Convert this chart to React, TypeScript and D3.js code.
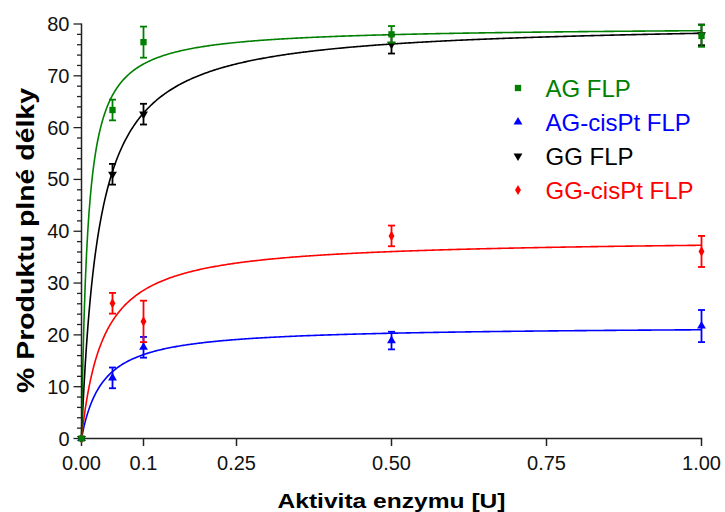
import * as d3 from 'd3';

// doses (x) and measured means / errors per series
const doses = [0, 0.05, 0.1, 0.5, 1.0];

const agMean = [0, 63.4, 76.5, 78.0, 77.7];
const agErr = [0, 2.0, 3.0, 1.6, 2.1];
const agCisMean = [0, 11.7, 17.6, 18.9, 21.7];
const agCisErr = [0, 2.0, 2.0, 1.7, 3.1];
const ggMean = [0, 51.0, 62.6, 76.1, 77.9];
const ggErr = [0, 2.0, 2.0, 1.8, 2.0];
const ggCisMean = [0, 26.1, 22.6, 39.1, 36.1];
const ggCisErr = [0, 2.0, 4.0, 2.0, 3.0];

// one-site hyperbola fit parameters (Bmax, Kd)
const fitBmax = [79.5, 21.7, 80.4, 38.6];
const fitKd = [0.01, 0.034, 0.028, 0.035];

const seriesNames = ['AG FLP', 'AG-cisPt FLP', 'GG FLP', 'GG-cisPt FLP'];
const seriesColors = ['#008000', '#0000ff', '#000000', '#ff0000'];

const xTicks = [0, 0.1, 0.25, 0.5, 0.75, 1.0];
const xTickLabels = ['0.00', '0.1', '0.25', '0.50', '0.75', '1.00'];
const yTicks = [0, 10, 20, 30, 40, 50, 60, 70, 80];
const yMinorTicks = d3.range(0, 81, 2);

const W = 725;
const H = 512;

export default function App() {
  const x = d3.scaleLinear().domain([0, 1]).range([81.5, 701.5]);
  const y = d3.scaleLinear().domain([0, 80]).range([438.5, 24]);

  const means = [agMean, agCisMean, ggMean, ggCisMean];
  const errs = [agErr, agCisErr, ggErr, ggCisErr];
  const symbols = [
    d3.symbol().type(d3.symbolSquare).size(40)(),
    d3.symbol().type(d3.symbolTriangle).size(34)(),
    d3.symbol().type(d3.symbolTriangle).size(34)(),
    d3.symbol().type(d3.symbolDiamond).size(30)(),
  ];
  const symbolRot = [0, 0, 180, 0];

  // sampling grid for the fitted curves
  const sampleX = d3.range(0, 1.0005, 0.002);

  // draw order: green on top
  const order = [1, 2, 3, 0];

  const axisColor = '#222';
  const font = 'Arial, "Liberation Sans", sans-serif';

  return (
    <svg
      width={W}
      height={H}
      style={{ position: 'absolute', left: 0, top: 0, background: '#fff' }}
      fontFamily={font}
    >
      {/* fitted curves */}
      {order.map((s) => {
        const path = d3
          .line<number>()
          .x((d) => x(d))
          .y((d) => y((fitBmax[s] * d) / (fitKd[s] + d)))(sampleX);
        return (
          <path
            key={'c' + s}
            d={path || ''}
            fill="none"
            stroke={seriesColors[s]}
            strokeWidth={1.6}
          />
        );
      })}

      {/* axes */}
      <line x1={x(0)} x2={x(0)} y1={y(80) - 0.5} y2={y(0)} stroke={axisColor} strokeWidth={1.5} />
      <line x1={x(0)} x2={x(1) + 0.75} y1={y(0)} y2={y(0)} stroke={axisColor} strokeWidth={1.5} />
      {yMinorTicks.map((t) => (
        <line
          key={'ym' + t}
          x1={x(0) - (t % 10 === 0 ? 8 : 4.5)}
          x2={x(0)}
          y1={y(t)}
          y2={y(t)}
          stroke={axisColor}
          strokeWidth={1.3}
        />
      ))}
      {yTicks.map((t) => (
        <text
          key={'yl' + t}
          x={x(0) - 12}
          y={y(t) + 7}
          textAnchor="end"
          fontSize={20}
          fill="#111"
        >
          {t}
        </text>
      ))}
      {xTicks.map((t, i) => (
        <g key={'xt' + t}>
          <line x1={x(t)} x2={x(t)} y1={y(0)} y2={y(0) + 7.5} stroke={axisColor} strokeWidth={1.5} />
          <text x={x(t)} y={469.5} textAnchor="middle" fontSize={20} fill="#111">
            {xTickLabels[i]}
          </text>
        </g>
      ))}

      {/* error bars + markers */}
      {order.map((s) => (
        <g key={'p' + s} fill={seriesColors[s]} stroke={seriesColors[s]}>
          {doses.map((d, i) =>
            errs[s][i] > 0 ? (
              <g key={i} strokeWidth={1.8}>
                <line x1={x(d)} x2={x(d)} y1={y(means[s][i] + errs[s][i])} y2={y(means[s][i] - errs[s][i])} />
                <line x1={x(d) - 3.5} x2={x(d) + 3.5} y1={y(means[s][i] + errs[s][i])} y2={y(means[s][i] + errs[s][i])} />
                <line x1={x(d) - 3.5} x2={x(d) + 3.5} y1={y(means[s][i] - errs[s][i])} y2={y(means[s][i] - errs[s][i])} />
              </g>
            ) : null
          )}
          {doses.map((d, i) => (
            <path
              key={'m' + i}
              d={symbols[s] || ''}
              stroke="none"
              transform={`translate(${x(d)},${y(means[s][i])}) rotate(${symbolRot[s]})`}
            />
          ))}
        </g>
      ))}

      {/* legend */}
      {seriesNames.map((name, i) => {
        const ly = 88 + i * 34;
        return (
          <g key={'lg' + i}>
            <path
              d={symbols[i] || ''}
              fill={seriesColors[i]}
              transform={`translate(518,${ly}) rotate(${symbolRot[i]})`}
            />
            <text x={545.5} y={ly + 8.5} fontSize={24} fill={seriesColors[i]}>
              {name}
            </text>
          </g>
        );
      })}

      {/* axis titles */}
      <text
        x={391.5}
        y={508}
        textAnchor="middle"
        fontSize={21}
        fontWeight="bold"
        textLength={228}
        lengthAdjust="spacingAndGlyphs"
        fill="#000"
      >
        Aktivita enzymu [U]
      </text>
      <text
        transform="translate(34,240.5) rotate(-90)"
        textAnchor="middle"
        fontSize={24}
        fontWeight="bold"
        textLength={305}
        lengthAdjust="spacingAndGlyphs"
        fill="#000"
      >
        % Produktu plné délky
      </text>
    </svg>
  );
}
